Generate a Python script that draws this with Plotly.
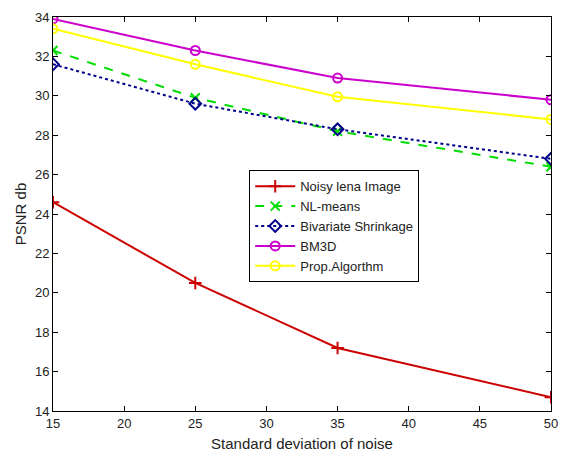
import plotly.graph_objects as go

x = [15, 25, 35, 50]
noisy = [24.6, 20.5, 17.2, 14.7]
nlmeans = [32.3, 29.9, 28.2, 26.4]
bivariate = [31.6, 29.6, 28.3, 26.8]
bm3d = [33.9, 32.3, 30.9, 29.8]
prop = [33.4, 31.6, 29.95, 28.8]

names = ["Noisy lena Image", "NL-means", "Bivariate Shrinkage", "BM3D", "Prop.Algorthm"]
series = [noisy, nlmeans, bivariate, bm3d, prop]
colors = ["#cc0000", "#00dd00", "#00008b", "#cc00cc", "#ffff00"]
dashes = ["solid", "dash", "dot", "solid", "solid"]
symbols = ["cross-thin-open", "x-thin-open", "diamond-open", "circle-open", "circle-open"]

fig = go.Figure()
for i, (n, s, c, d, sy) in enumerate(zip(names, series, colors, dashes, symbols)):
    fig.add_trace(go.Scatter(
        x=x, y=s, name=n, mode="lines+markers", legendgroup=str(i),
        line=dict(color=c, width=2, dash=d),
        marker=dict(symbol=sy, size=9, color=c, line=dict(color=c, width=2)),
    ))

font_family = "Liberation Sans, Arial"
axis_common = dict(
    showgrid=False, zeroline=False, showline=True, linecolor="black", linewidth=1,
    mirror="ticks", ticks="inside", ticklen=5, tickcolor="black",
    tickfont=dict(family=font_family, size=13, color="#222"),
)
fig.update_xaxes(range=[15, 50], dtick=5, title=dict(text="Standard deviation of noise",
                 font=dict(family=font_family, size=15, color="#222"), standoff=8), **axis_common)
fig.update_yaxes(range=[14, 34], dtick=2, title=dict(text="PSNR db",
                 font=dict(family=font_family, size=15, color="#222"), standoff=4), **axis_common)

fig.update_layout(
    width=566, height=457,
    margin=dict(l=53, r=8, t=17, b=44),
    paper_bgcolor="white", plot_bgcolor="white",
    showlegend=True,
    legend=dict(x=0.394, y=0.611, xanchor="left", yanchor="top",
                bgcolor="white", bordercolor="black", borderwidth=1,
                font=dict(family=font_family, size=13, color="#222"),
                itemwidth=40, traceorder="grouped", tracegroupgap=0),
)
fig.write_html("out.html")
